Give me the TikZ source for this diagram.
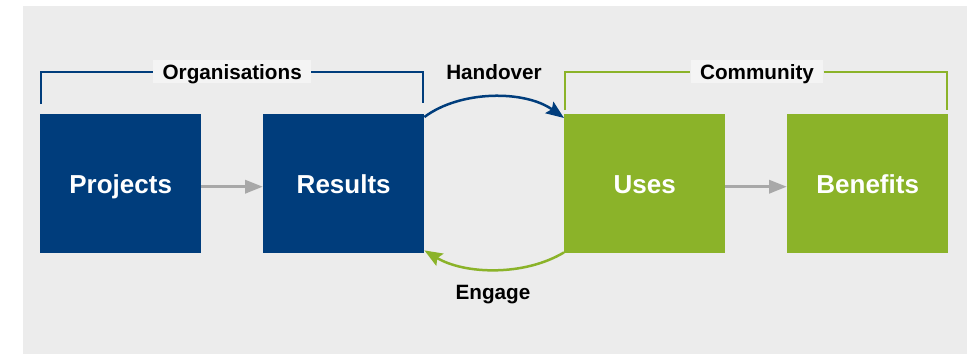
\documentclass[tikz,border=0pt]{standalone}
\usepackage{fontspec}
\setmainfont{Liberation Sans}
\usetikzlibrary{arrows.meta}
\definecolor{bgc}{HTML}{ECECEC}
\definecolor{lblc}{HTML}{F4F4F4}
\definecolor{dblue}{HTML}{003D7C}
\definecolor{lgreen}{HTML}{8BB329}
\definecolor{arrg}{HTML}{A8A8A8}
\begin{document}
\begin{tikzpicture}[x=1pt,y=-1pt,
  box/.style={minimum width=161pt, minimum height=139pt, inner sep=0pt, text=white,
    font=\fontsize{26}{30}\selectfont\bfseries, text height=18.6pt, text depth=0pt, anchor=north west},
  lbl/.style={fill=lblc, font=\fontsize{20.7}{24}\selectfont\bfseries, text height=14.8pt,
    text depth=0pt, minimum height=23.3pt, inner xsep=9.5pt, inner ysep=0pt},
  txt/.style={font=\fontsize{20.7}{24}\selectfont\bfseries, anchor=base, inner sep=0pt},
  brk/.style={line width=2.4pt},
  grayarrow/.style={arrg, line width=3.5pt, -{Triangle[length=18pt,width=13pt]}},
  curvearrow/.style={line width=2.5pt, -{Stealth[length=18pt,width=14pt,inset=3pt]}}
]
\useasboundingbox (0,0) rectangle (967,354);
\fill[bgc] (23,6) rectangle (967,354);

\node[box, fill=dblue] (projects) at (40,114) {Projects};
\node[box, fill=dblue] (results) at (263,114) {Results};
\node[box, fill=lgreen] (uses) at (564,114) {Uses};
\node[box, fill=lgreen] (benefits) at (787,114) {Benefits};

\node[lbl] (org) at (232.2,71.7) {Organisations};
\node[lbl] (com) at (757,71.7) {Community};

\draw[dblue, brk] ([xshift=1.2pt,yshift=10pt]projects.north west) |- (org.west);
\draw[dblue, brk] (org.east) -| ([xshift=-1.2pt,yshift=11pt]results.north east);
\draw[lgreen, brk] ([xshift=1.2pt,yshift=4pt]uses.north west) |- (com.west);
\draw[lgreen, brk] (com.east) -| ([xshift=-1.2pt,yshift=4pt]benefits.north east);

\draw[grayarrow] ([yshift=-3pt]projects.east) -- ([yshift=-3pt]results.west);
\draw[grayarrow] ([yshift=-3pt]uses.east) -- ([yshift=-3pt]benefits.west);

\node[txt] (hand) at (494,79.3) {Handover};
\node[txt] (eng) at (493,299.3) {Engage};

\draw[dblue, curvearrow] ([yshift=-3pt]results.north east) .. controls +(36,-27) and +(-39,-28) .. ([yshift=-4pt]uses.north west);
\draw[lgreen, curvearrow] ([yshift=1pt]uses.south west) .. controls +(-40,24) and +(40,24) .. ([yshift=3pt]results.south east);
\end{tikzpicture}
\end{document}
